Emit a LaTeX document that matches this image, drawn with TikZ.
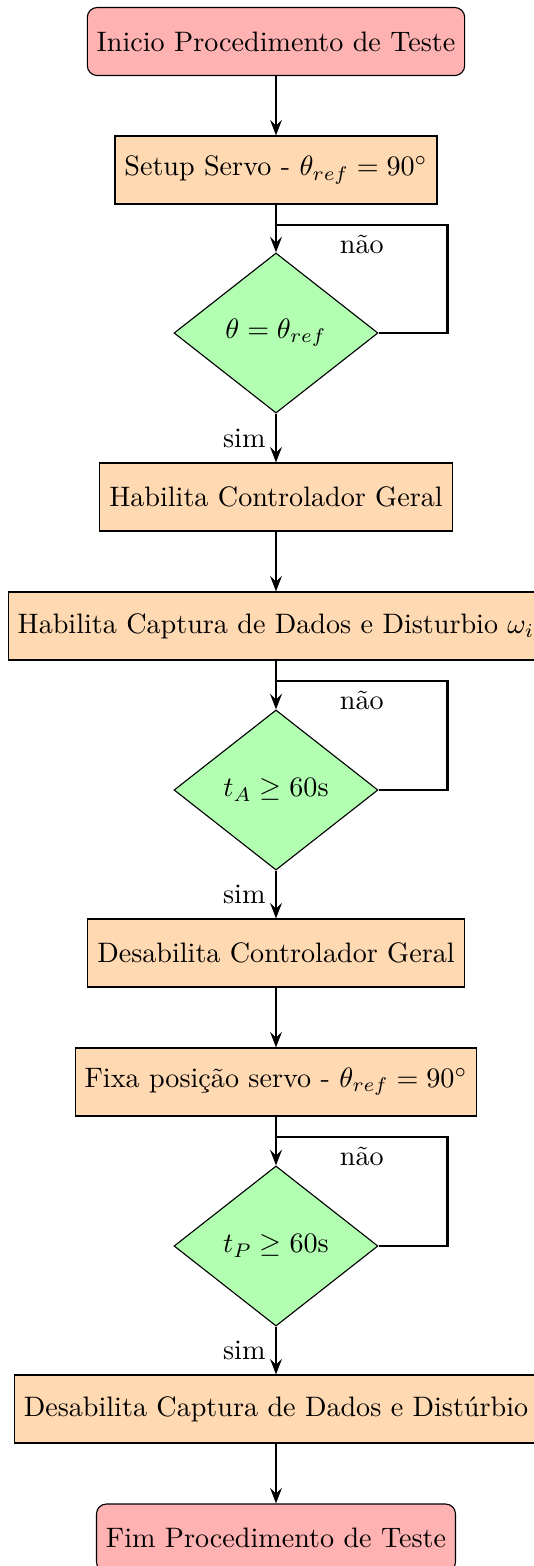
\documentclass[tikz,border=0pt]{standalone}
\usepackage{fontspec}
\usetikzlibrary{shapes.geometric,arrows.meta}
\begin{document}
\begin{tikzpicture}[x=0.3554pt,y=-0.3554pt,
  startstop/.style={rectangle,rounded corners=3.5pt,draw,fill=red!30,minimum height=24.17pt},
  procbox/.style={rectangle,draw,fill=orange!30,minimum height=24.17pt},
  decision/.style={diamond,draw,fill=green!30,minimum width=72.5pt,minimum height=56.9pt,inner sep=0pt},
  conn/.style={thick,-{Stealth[length=5.5pt,width=4.2pt,inset=2pt]}},
  loopline/.style={thick}]
\useasboundingbox (0,0) rectangle (533,1566);
\node[startstop] (start) at (276,41.5) {Inicio Procedimento de Teste};
\node[procbox] (setup) at (276,170) {Setup Servo - $\theta_{ref} = 90^\circ$};
\node[decision] (d1) at (276,333) {$\theta = \theta_{ref}$};
\node[procbox] (hab) at (276,497) {Habilita Controlador Geral};
\node[procbox] (cap) at (276,626) {Habilita Captura de Dados e Disturbio $\omega_i$};
\node[decision] (d2) at (276,790) {$t_A \geq 60$s};
\node[procbox] (des) at (276,953) {Desabilita Controlador Geral};
\node[procbox] (fixa) at (276,1082) {Fixa posição servo - $\theta_{ref} = 90^\circ$};
\node[decision] (d3) at (276,1246) {$t_P \geq 60$s};
\node[procbox] (descap) at (276,1409) {Desabilita Captura de Dados e Distúrbio};
\node[startstop] (fim) at (276,1538) {Fim Procedimento de Teste};
\coordinate (j1) at (276,225);
\coordinate (j2) at (276,681);
\coordinate (j3) at (276,1137);
\draw[conn] (start) -- (setup);
\draw[conn] (setup) -- (d1);
\draw[loopline] (d1.east) -- ++(69,0) |- (j1) node[pos=0.75,below] {não};
\draw[conn] (d1) -- node[left] {sim} (hab);
\draw[conn] (hab) -- (cap);
\draw[conn] (cap) -- (d2);
\draw[loopline] (d2.east) -- ++(69,0) |- (j2) node[pos=0.75,below] {não};
\draw[conn] (d2) -- node[left] {sim} (des);
\draw[conn] (des) -- (fixa);
\draw[conn] (fixa) -- (d3);
\draw[loopline] (d3.east) -- ++(69,0) |- (j3) node[pos=0.75,below] {não};
\draw[conn] (d3) -- node[left] {sim} (descap);
\draw[conn] (descap) -- (fim);
\end{tikzpicture}
\end{document}
